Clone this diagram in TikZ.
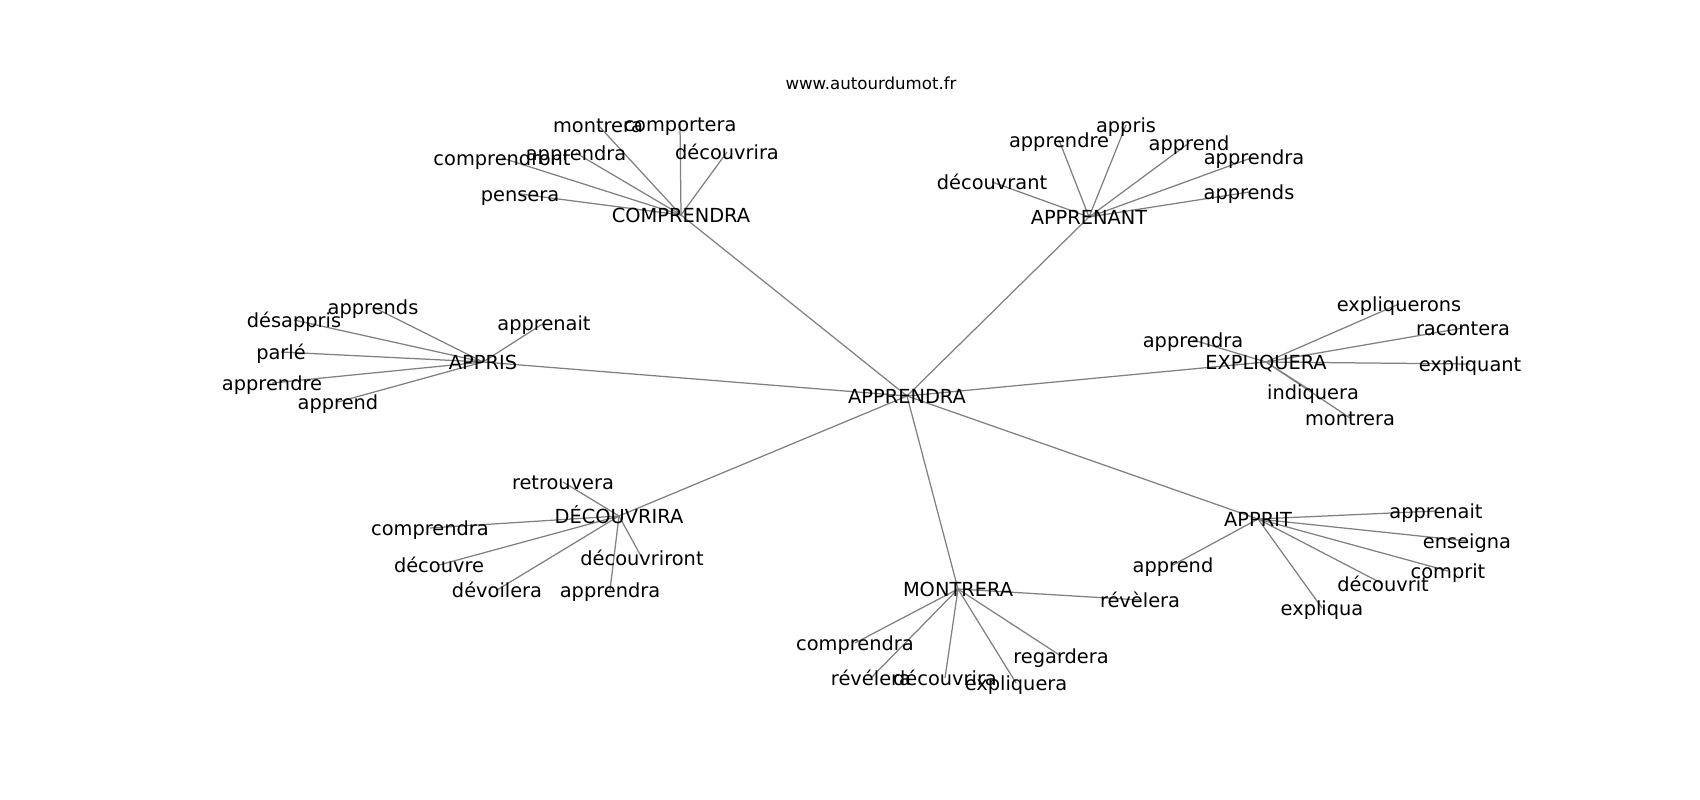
\documentclass[tikz,border=0pt]{standalone}
\usepackage{fontspec}
\setmainfont{DejaVu Sans}
\usetikzlibrary{backgrounds}

\begin{document}
\begin{tikzpicture}[x=0.01in,y=-0.01in,
  word/.style={inner sep=0pt,font=\fontsize{14}{16}\selectfont,text height=1.34em,text depth=0.24em},
  link/.style={draw=gray,line width=0.9pt}]
\useasboundingbox (0,0) rectangle (1700,800);

\node [inner sep=0pt,font=\fontsize{12}{14}\selectfont] (site) at (871,83) {www.autourdumot.fr};

\node [word] (apprendra) at (907,396) {APPRENDRA};

\node [word] (comprendra) at (681,215) {COMPRENDRA};
\node [word] (c-montrera) at (598,125) {montrera};
\node [word] (c-comportera) at (680,124) {comportera};
\node [word] (c-decouvrira) at (727,152) {découvrira};
\node [word] (c-comprendront) at (502,158) {comprendront};
\node [word] (c-apprendra) at (576,153) {apprendra};
\node [word] (c-pensera) at (520,194) {pensera};

\node [word] (apprenant) at (1089,217) {APPRENANT};
\node [word] (a-apprendre) at (1059,140) {apprendre};
\node [word] (a-appris) at (1126,125) {appris};
\node [word] (a-apprend) at (1189,143) {apprend};
\node [word] (a-apprendra) at (1254,157) {apprendra};
\node [word] (a-decouvrant) at (992,182) {découvrant};
\node [word] (a-apprends) at (1249,192) {apprends};

\node [word] (appris) at (483,362) {APPRIS};
\node [word] (p-apprends) at (373,307) {apprends};
\node [word] (p-desappris) at (294,320) {désappris};
\node [word] (p-apprenait) at (544,323) {apprenait};
\node [word] (p-parle) at (281,352) {parlé};
\node [word] (p-apprendre) at (272,383) {apprendre};
\node [word] (p-apprend) at (338,402) {apprend};

\node [word] (expliquera) at (1266,362) {EXPLIQUERA};
\node [word] (e-expliquerons) at (1399,304) {expliquerons};
\node [word] (e-racontera) at (1463,328) {racontera};
\node [word] (e-apprendra) at (1193,340) {apprendra};
\node [word] (e-expliquant) at (1470,364) {expliquant};
\node [word] (e-indiquera) at (1313,392) {indiquera};
\node [word] (e-montrera) at (1350,418) {montrera};

\node [word] (decouvrira) at (619,516) {DÉCOUVRIRA};
\node [word] (d-retrouvera) at (563,482) {retrouvera};
\node [word] (d-comprendra) at (430,528) {comprendra};
\node [word] (d-decouvre) at (439,565) {découvre};
\node [word] (d-decouvriront) at (642,558) {découvriront};
\node [word] (d-devoilera) at (497,590) {dévoilera};
\node [word] (d-apprendra) at (610,590) {apprendra};

\node [word] (montrera) at (958,589) {MONTRERA};
\node [word] (m-revelera) at (1140,600) {révèlera};
\node [word] (m-comprendra) at (855,643) {comprendra};
\node [word] (m-regardera) at (1061,656) {regardera};
\node [word] (m-revelera2) at (871,678) {révélera};
\node [word] (m-decouvrira) at (945,678) {découvrira};
\node [word] (m-expliquera) at (1016,683) {expliquera};

\node [word] (apprit) at (1258,519) {APPRIT};
\node [word] (t-apprenait) at (1436,511) {apprenait};
\node [word] (t-enseigna) at (1467,541) {enseigna};
\node [word] (t-apprend) at (1173,565) {apprend};
\node [word] (t-comprit) at (1448,571) {comprit};
\node [word] (t-decouvrit) at (1383,584) {découvrit};
\node [word] (t-expliqua) at (1322,608) {expliqua};

\begin{scope}[on background layer]
% hubs round the centre
\draw [link] (apprendra.center) -- (comprendra.center);
\draw [link] (apprendra.center) -- (apprenant.center);
\draw [link] (apprendra.center) -- (appris.center);
\draw [link] (apprendra.center) -- (expliquera.center);
\draw [link] (apprendra.center) -- (decouvrira.center);
\draw [link] (apprendra.center) -- (montrera.center);
\draw [link] (apprendra.center) -- (apprit.center);

\draw [link] (comprendra.center) -- (c-montrera.center);
\draw [link] (comprendra.center) -- (c-comportera.center);
\draw [link] (comprendra.center) -- (c-decouvrira.center);
\draw [link] (comprendra.center) -- (c-comprendront.center);
\draw [link] (comprendra.center) -- (c-apprendra.center);
\draw [link] (comprendra.center) -- (c-pensera.center);

\draw [link] (apprenant.center) -- (a-apprendre.center);
\draw [link] (apprenant.center) -- (a-appris.center);
\draw [link] (apprenant.center) -- (a-apprend.center);
\draw [link] (apprenant.center) -- (a-apprendra.center);
\draw [link] (apprenant.center) -- (a-decouvrant.center);
\draw [link] (apprenant.center) -- (a-apprends.center);

\draw [link] (appris.center) -- (p-apprends.center);
\draw [link] (appris.center) -- (p-desappris.center);
\draw [link] (appris.center) -- (p-apprenait.center);
\draw [link] (appris.center) -- (p-parle.center);
\draw [link] (appris.center) -- (p-apprendre.center);
\draw [link] (appris.center) -- (p-apprend.center);

\draw [link] (expliquera.center) -- (e-expliquerons.center);
\draw [link] (expliquera.center) -- (e-racontera.center);
\draw [link] (expliquera.center) -- (e-apprendra.center);
\draw [link] (expliquera.center) -- (e-expliquant.center);
\draw [link] (expliquera.center) -- (e-indiquera.center);
\draw [link] (expliquera.center) -- (e-montrera.center);

\draw [link] (decouvrira.center) -- (d-retrouvera.center);
\draw [link] (decouvrira.center) -- (d-comprendra.center);
\draw [link] (decouvrira.center) -- (d-decouvre.center);
\draw [link] (decouvrira.center) -- (d-decouvriront.center);
\draw [link] (decouvrira.center) -- (d-devoilera.center);
\draw [link] (decouvrira.center) -- (d-apprendra.center);

\draw [link] (montrera.center) -- (m-revelera.center);
\draw [link] (montrera.center) -- (m-comprendra.center);
\draw [link] (montrera.center) -- (m-regardera.center);
\draw [link] (montrera.center) -- (m-revelera2.center);
\draw [link] (montrera.center) -- (m-decouvrira.center);
\draw [link] (montrera.center) -- (m-expliquera.center);

\draw [link] (apprit.center) -- (t-apprenait.center);
\draw [link] (apprit.center) -- (t-enseigna.center);
\draw [link] (apprit.center) -- (t-apprend.center);
\draw [link] (apprit.center) -- (t-comprit.center);
\draw [link] (apprit.center) -- (t-decouvrit.center);
\draw [link] (apprit.center) -- (t-expliqua.center);
\end{scope}

\end{tikzpicture}
\end{document}
